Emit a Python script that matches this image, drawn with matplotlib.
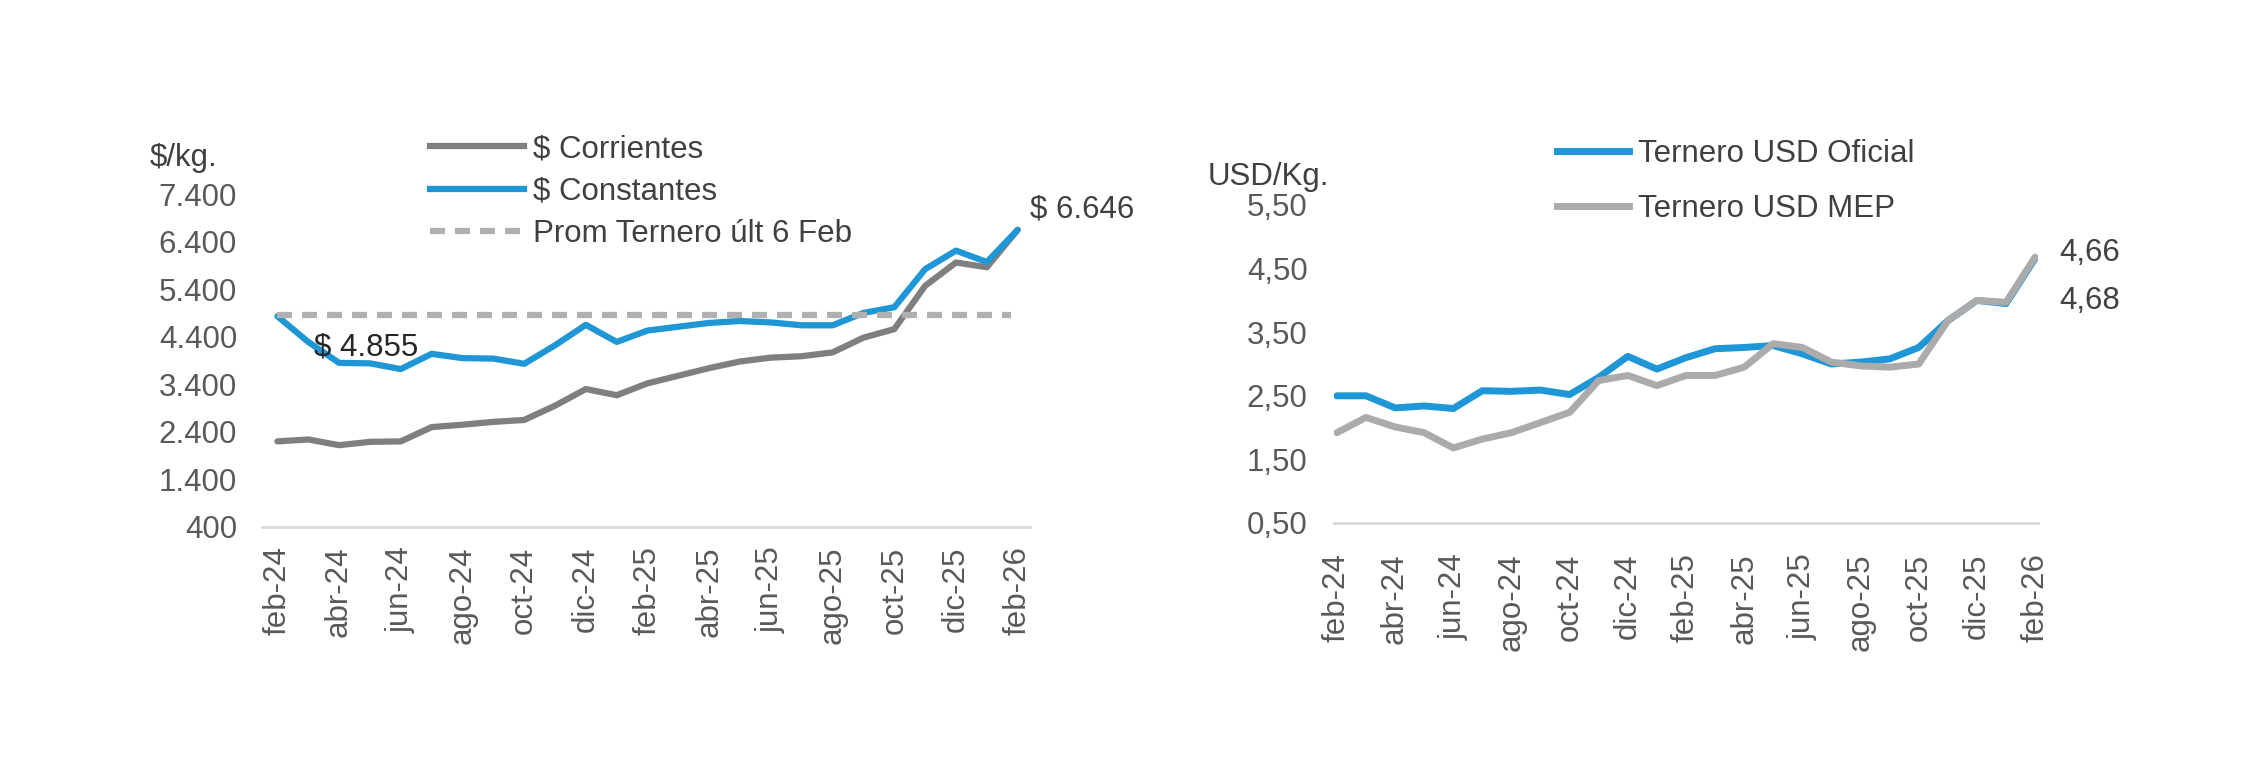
import matplotlib
matplotlib.use("Agg")
import matplotlib.pyplot as plt
from matplotlib.lines import Line2D

plt.rcParams['font.family'] = ['Liberation Sans', 'DejaVu Sans']

#%% Data (monthly, feb-24 .. feb-26)
months = ['feb-24', 'mar-24', 'abr-24', 'may-24', 'jun-24', 'jul-24', 'ago-24', 'sep-24',
          'oct-24', 'nov-24', 'dic-24', 'ene-25', 'feb-25', 'mar-25', 'abr-25', 'may-25',
          'jun-25', 'jul-25', 'ago-25', 'sep-25', 'oct-25', 'nov-25', 'dic-25', 'ene-26',
          'feb-26']

corrientes = [2200, 2240, 2120, 2190, 2200, 2500, 2550, 2610, 2650, 2950, 3300, 3170, 3420,
              3580, 3740, 3880, 3960, 3990, 4070, 4380, 4560, 5470, 5960, 5860, 6646]
constantes = [4830, 4290, 3850, 3840, 3720, 4040, 3950, 3940, 3830, 4220, 4650, 4290, 4530,
              4610, 4690, 4730, 4700, 4640, 4640, 4900, 5020, 5820, 6210, 5970, 6646]
prom_feb = 4855

usd_oficial = [2.50, 2.50, 2.31, 2.34, 2.30, 2.58, 2.57, 2.59, 2.52, 2.79, 3.12, 2.92, 3.10,
               3.24, 3.26, 3.29, 3.16, 3.00, 3.03, 3.08, 3.26, 3.68, 4.00, 3.95, 4.66]
usd_mep = [1.92, 2.16, 2.01, 1.92, 1.68, 1.82, 1.92, 2.08, 2.24, 2.74, 2.82, 2.66, 2.82,
           2.82, 2.95, 3.32, 3.26, 3.03, 2.97, 2.95, 3.00, 3.68, 4.00, 3.97, 4.68]

left_yticks = [400, 1400, 2400, 3400, 4400, 5400, 6400, 7400]
right_yticks = [0.5, 1.5, 2.5, 3.5, 4.5, 5.5]

#%% Style
blue = '#1F96D6'
dgray = '#7F7F7F'
lgray = '#ABABAB'
dash_gray = '#B0B0B0'
txt = '#404040'
tick_txt = '#595959'
axis_gray = '#D9D9D9'
fs = 22.5

W, H = 2250, 764
fig = plt.figure(figsize=(W / 100, H / 100), dpi=100)
x = list(range(len(months)))


def style_axis(ax, xpad):
    for s in ['top', 'right', 'left']:
        ax.spines[s].set_visible(False)
    ax.spines['bottom'].set_color(axis_gray)
    ax.spines['bottom'].set_linewidth(2)
    ax.set_xticks(x[::2])
    ax.set_xticklabels(months[::2], rotation=90, fontsize=fs, color=tick_txt)
    ax.tick_params(axis='x', length=0, pad=xpad)
    ax.tick_params(axis='y', length=0, labelsize=fs, labelcolor=tick_txt)


#%% Left chart
ax1 = fig.add_axes([262 / W, 1 - 527 / H, (1030 - 262) / W, (527 - 194) / H])
ax1.plot(x, corrientes, color=dgray, lw=4.5, solid_joinstyle='round', solid_capstyle='round', zorder=2)
ax1.plot(x, constantes, color=blue, lw=4.5, solid_joinstyle='round', solid_capstyle='round', zorder=3)
ax1.hlines(prom_feb, 0, 23.8, colors=dash_gray, lw=4.5, linestyles=(0, (2.4, 1.6)), zorder=4)
ax1.set_xlim(-0.5, 24.4)
ax1.set_ylim(400, 7400)
ax1.set_yticks(left_yticks)
ax1.set_yticklabels([f'{v:,}'.replace(',', '.') for v in left_yticks])
ax1.tick_params(axis='y', pad=18)
style_axis(ax1, 14)

ax1.annotate('$ 4.855', xy=(1.2, prom_feb), xytext=(0, -32), textcoords='offset pixels',
             fontsize=fs, color='#262626', va='center', ha='left')
ax1.annotate('$ 6.646', xy=(x[-1], constantes[-1]), xytext=(12, 20), textcoords='offset pixels',
             fontsize=fs, color=txt, va='center', ha='left', annotation_clip=False)
fig.text(150 / W, 1 - 158 / H, '$/kg.', fontsize=fs, color=txt, va='center', ha='left')

h1 = [Line2D([], [], color=dgray, lw=4.5),
      Line2D([], [], color=blue, lw=4.5),
      Line2D([], [], color=dash_gray, lw=4.5, linestyle=(0, (2.4, 1.6)))]
fig.legend(h1, ['$ Corrientes', '$ Constantes', 'Prom Ternero últ 6 Feb'],
           loc='upper left', bbox_to_anchor=(430 / W, 1 - 134 / H), frameon=False,
           fontsize=fs, labelcolor=txt, handlelength=3.0, handletextpad=0.3,
           labelspacing=0.4, borderpad=0, borderaxespad=0)

#%% Right chart
ax2 = fig.add_axes([1334 / W, 1 - 523 / H, (2038 - 1334) / W, (523 - 205) / H])
ax2.plot(x, usd_oficial, color=blue, lw=5, solid_joinstyle='round', solid_capstyle='round', zorder=2)
ax2.plot(x, usd_mep, color=lgray, lw=5, solid_joinstyle='round', solid_capstyle='round', zorder=3)
ax2.set_xlim(-0.1, 24.1)
ax2.set_ylim(0.5, 5.5)
ax2.set_yticks(right_yticks)
ax2.set_yticklabels([f'{v:.2f}'.replace('.', ',') for v in right_yticks])
ax2.tick_params(axis='y', pad=19)
style_axis(ax2, 22)

ax2.annotate('4,66', xy=(x[-1], usd_oficial[-1]), xytext=(24, 5), textcoords='offset pixels',
             fontsize=fs, color=txt, va='center', ha='left', annotation_clip=False)
ax2.annotate('4,68', xy=(x[-1], usd_mep[-1]), xytext=(24, -44), textcoords='offset pixels',
             fontsize=fs, color=txt, va='center', ha='left', annotation_clip=False)
fig.text(1208 / W, 1 - 177 / H, 'USD/Kg.', fontsize=fs, color=txt, va='center', ha='left')

h2 = [Line2D([], [], color=blue, lw=5), Line2D([], [], color=lgray, lw=5)]
fig.legend(h2, ['Ternero USD Oficial', 'Ternero USD MEP'],
           loc='upper left', bbox_to_anchor=(1557 / W, 1 - 139 / H), frameon=False,
           fontsize=fs, labelcolor=txt, handlelength=2.3, handletextpad=0.3,
           labelspacing=0.8, borderpad=0, borderaxespad=0)

fig.savefig('out.png', dpi=100, facecolor='white')
